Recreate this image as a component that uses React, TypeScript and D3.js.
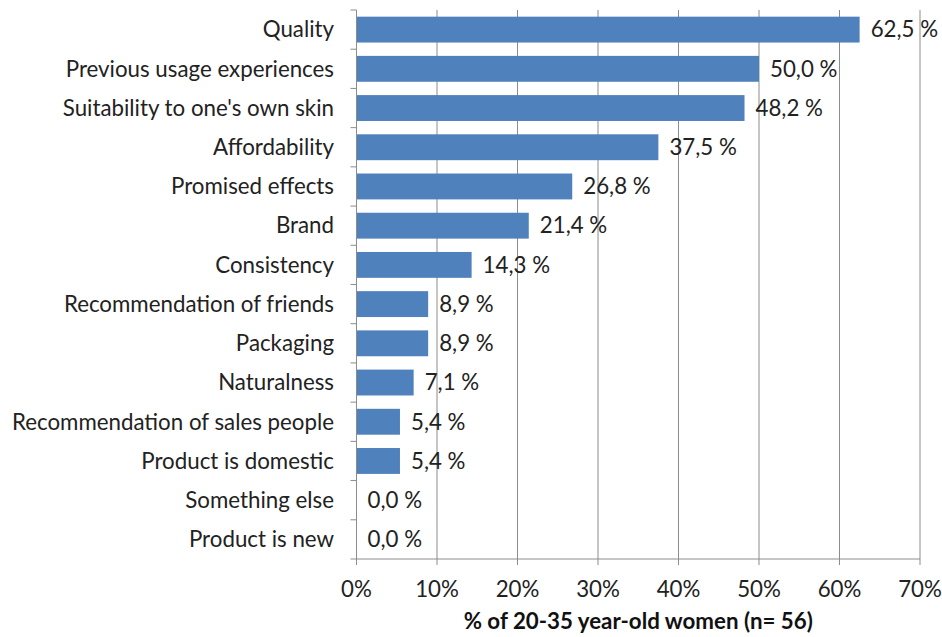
import { useEffect, useRef } from "react";
import * as d3 from "d3";

const CATEGORIES = [
  "Quality",
  "Previous usage experiences",
  "Suitability to one's own skin",
  "Affordability",
  "Promised effects",
  "Brand",
  "Consistency",
  "Recommendation of friends",
  "Packaging",
  "Naturalness",
  "Recommendation of sales people",
  "Product is domestic",
  "Something else",
  "Product is new",
];

const VALUES = [62.5, 50.0, 48.2, 37.5, 26.8, 21.4, 14.3, 8.9, 8.9, 7.1, 5.4, 5.4, 0.0, 0.0];

const X_TICKS = [0, 10, 20, 30, 40, 50, 60, 70];

const X_TITLE = "% of 20-35 year-old women (n= 56)";

const W = 942;
const H = 637;
const FONT = "Lato, 'Open Sans', sans-serif";
const FS = 22.3;

export default function App() {
  const svgRef = useRef<SVGSVGElement>(null);

  useEffect(() => {
    if (!svgRef.current) return;
    const svg = d3.select(svgRef.current);
    svg.selectAll("*").remove();

    const left = 356.5;
    const right = 920;
    const top = 10;
    const bottom = 559;

    const x = d3.scaleLinear().domain([0, 70]).range([left, right]);
    const y = d3.scaleBand<string>().domain(CATEGORIES).range([top, bottom]).paddingInner(0.34).paddingOuter(0.17);

    const grid = "#8c8c8c";

    // vertical gridlines
    svg.append("g")
      .selectAll("line")
      .data(X_TICKS.slice(1))
      .enter()
      .append("line")
      .attr("x1", (d) => x(d))
      .attr("x2", (d) => x(d))
      .attr("y1", top)
      .attr("y2", bottom)
      .attr("stroke", grid)
      .attr("stroke-width", 1);

    // bars
    svg.append("g")
      .selectAll("rect")
      .data(VALUES)
      .enter()
      .append("rect")
      .attr("x", x(0))
      .attr("y", (_, i) => y(CATEGORIES[i])!)
      .attr("width", (d) => x(d) - x(0))
      .attr("height", y.bandwidth())
      .attr("fill", "#4f81bd");

    // value labels
    svg.append("g")
      .selectAll("text")
      .data(VALUES)
      .enter()
      .append("text")
      .attr("x", (d) => x(d) + 11)
      .attr("y", (_, i) => y(CATEGORIES[i])! + y.bandwidth() / 2)
      .attr("dy", "0.35em")
      .attr("font-family", FONT)
      .attr("font-size", FS)
      .attr("fill", "#222")
      .text((d) => d.toFixed(1).replace(".", ",") + " %");

    // y axis
    const step = y.step();
    svg.append("line")
      .attr("x1", left).attr("x2", left)
      .attr("y1", top).attr("y2", bottom)
      .attr("stroke", grid);
    svg.append("g")
      .selectAll("line")
      .data(d3.range(CATEGORIES.length + 1))
      .enter()
      .append("line")
      .attr("x1", left - 6)
      .attr("x2", left)
      .attr("y1", (i) => top + i * step)
      .attr("y2", (i) => top + i * step)
      .attr("stroke", grid);

    svg.append("g")
      .selectAll("text")
      .data(CATEGORIES)
      .enter()
      .append("text")
      .attr("x", 334)
      .attr("y", (d) => y(d)! + y.bandwidth() / 2)
      .attr("dy", "0.35em")
      .attr("text-anchor", "end")
      .attr("font-family", FONT)
      .attr("font-size", FS)
      .attr("fill", "#222")
      .text((d) => d);

    // x axis
    svg.append("line")
      .attr("x1", left).attr("x2", right)
      .attr("y1", bottom).attr("y2", bottom)
      .attr("stroke", grid);
    svg.append("g")
      .selectAll("line")
      .data(X_TICKS)
      .enter()
      .append("line")
      .attr("x1", (d) => x(d))
      .attr("x2", (d) => x(d))
      .attr("y1", bottom)
      .attr("y2", bottom + 6)
      .attr("stroke", grid);
    svg.append("g")
      .selectAll("text")
      .data(X_TICKS)
      .enter()
      .append("text")
      .attr("x", (d) => x(d))
      .attr("y", 589)
      .attr("dy", "0.35em")
      .attr("text-anchor", "middle")
      .attr("font-family", FONT)
      .attr("font-size", FS)
      .attr("fill", "#222")
      .text((d) => d + "%");

    svg.append("text")
      .attr("x", (left + right) / 2)
      .attr("y", 621)
      .attr("dy", "0.35em")
      .attr("text-anchor", "middle")
      .attr("font-family", FONT)
      .attr("font-size", FS)
      .attr("font-weight", "bold")
      .attr("fill", "#111")
      .text(X_TITLE);
  }, []);

  return (
    <svg
      ref={svgRef}
      width={W}
      height={H}
      style={{ position: "absolute", left: 0, top: 0, background: "#fff" }}
    />
  );
}
